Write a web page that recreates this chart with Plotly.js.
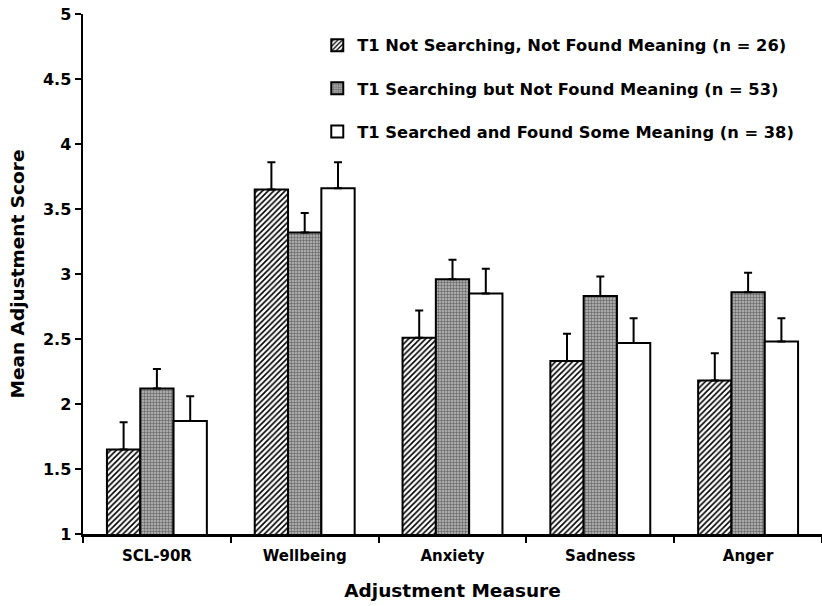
<!DOCTYPE html>
<html>
<head>
<meta charset="utf-8">
<script src="https://cdn.plot.ly/plotly-3.0.1.min.js"></script>
<style>html,body{margin:0;padding:0;background:#fff;}#chart{width:822px;height:606px;}</style>
</head>
<body>
<div id="chart"></div>
<script>
const categories = ["SCL-90R", "Wellbeing", "Anxiety", "Sadness", "Anger"];
const seriesNames = [
  "T1 Not Searching, Not Found Meaning (n = 26)",
  "T1 Searching but Not Found Meaning (n = 53)",
  "T1 Searched and Found Some Meaning (n = 38)"
];
const notSearching = [1.65, 3.65, 2.51, 2.33, 2.18];
const searchingNotFound = [2.12, 3.32, 2.96, 2.83, 2.86];
const searchedFound = [1.87, 3.66, 2.85, 2.47, 2.48];
const notSearchingErr = [0.21, 0.21, 0.21, 0.21, 0.21];
const searchingNotFoundErr = [0.15, 0.15, 0.15, 0.15, 0.15];
const searchedFoundErr = [0.19, 0.20, 0.19, 0.19, 0.18];
const yTicks = [1, 1.5, 2, 2.5, 3, 3.5, 4, 4.5, 5];

const FONT = "DejaVu Sans, Verdana, sans-serif";
const zeros = categories.map(() => 0);

function errBar(arr) {
  return {type: "data", symmetric: false, array: arr, arrayminus: zeros,
          color: "#000", thickness: 2, width: 4};
}

const traces = [
  {type: "bar", name: seriesNames[0], x: categories, y: notSearching, legendgroup: "a",
   marker: {color: "#fff", line: {color: "#000", width: 2},
            pattern: {shape: "/", fgcolor: "#000", bgcolor: "#fff", size: 4, solidity: 0.4}},
   error_y: errBar(notSearchingErr)},
  {type: "bar", name: seriesNames[1], x: categories, y: searchingNotFound, legendgroup: "b",
   marker: {color: "#b0b0b0", line: {color: "#000", width: 2},
            pattern: {shape: ".", fgcolor: "#6a6a6a", bgcolor: "#bdbdbd", size: 3, solidity: 0.5}},
   error_y: errBar(searchingNotFoundErr)},
  {type: "bar", name: seriesNames[2], x: categories, y: searchedFound, legendgroup: "c",
   marker: {color: "#fff", line: {color: "#000", width: 2}},
   error_y: errBar(searchedFoundErr)}
];

const layout = {
  width: 822, height: 606,
  margin: {l: 83, r: 0, t: 14, b: 72},
  paper_bgcolor: "#fff", plot_bgcolor: "#fff",
  font: {family: FONT, color: "#000", weight: "bold"},
  barmode: "group", bargap: 0.324, bargroupgap: 0,
  showlegend: true,
  legend: {x: 0.317, y: 0.973, xanchor: "left", yanchor: "top",
           bgcolor: "rgba(0,0,0,0)", traceorder: "grouped", tracegroupgap: 19,
           font: {family: FONT, size: 16.3, color: "#000", weight: "bold"}},
  xaxis: {type: "category", showline: true, linecolor: "#000", linewidth: 3,
          ticks: "outside", tickson: "boundaries", ticklen: 6, tickwidth: 2, tickcolor: "#000",
          ticklabelstandoff: 6,
          showgrid: false, zeroline: false,
          tickfont: {family: FONT, size: 15, color: "#000", weight: "bold"},
          title: {text: "Adjustment Measure", standoff: 21,
                  font: {family: FONT, size: 18.5, color: "#000", weight: "bold"}}},
  yaxis: {range: [1, 5], tickvals: yTicks, ticktext: yTicks.map(String),
          showline: true, linecolor: "#000", linewidth: 2.5,
          ticks: "outside", ticklen: 6, tickwidth: 2, tickcolor: "#000",
          showgrid: false, zeroline: false,
          tickfont: {family: FONT, size: 16, color: "#000", weight: "bold"},
          title: {text: "Mean Adjustment Score", standoff: 14,
                  font: {family: FONT, size: 18.5, color: "#000", weight: "bold"}}}
};

Plotly.newPlot("chart", traces, layout, {displayModeBar: false, staticPlot: true});
</script>
</body>
</html>
